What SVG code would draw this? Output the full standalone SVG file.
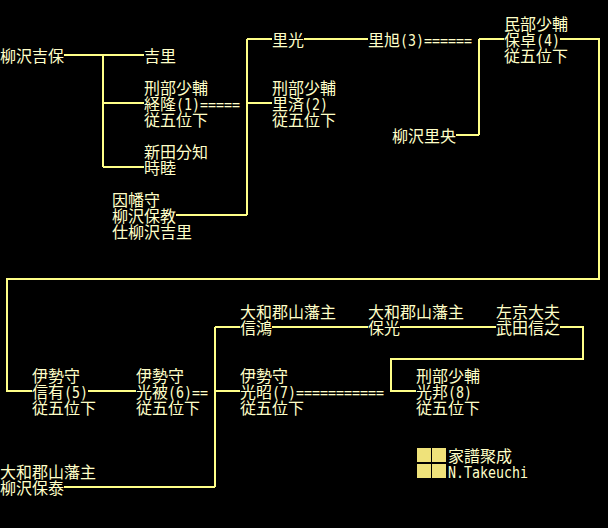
<svg xmlns="http://www.w3.org/2000/svg" width="608" height="528" viewBox="0 0 608 528">
<style>
text{font-family:"Noto Sans CJK JP","Noto Sans CJK SC",sans-serif;font-size:16px;fill:#ffffc8}
.a{font-family:"DejaVu Sans Mono","Liberation Mono",monospace;font-size:15px}
#connectors path{fill:none;stroke:#ffff88;stroke-width:2}
.sq{fill:#efe27a}
</style>
<rect width="608" height="528" fill="#000"/>
<g id="connectors">
<path d="M64 55H144M103 55V167M103 103H144M103 167H144"/>
<path d="M176 215H247M247 39V215M247 39H272M247 103H272"/>
<path d="M304 39H368"/>
<path d="M456 135H479M479 39V135M479 39H504"/>
<path d="M560 39H599V279H7V391H32"/>
<path d="M88 391H136"/>
<path d="M64 487H215M215 327V487M215 327H240M215 391H240"/>
<path d="M272 327H368M400 327H496"/>
<path d="M560 327H583V359H391V391H416"/>
</g>
<g id="n1"><text x="0" y="62">柳沢吉保</text></g>
<g id="n2"><text x="144" y="62">吉里</text></g>
<g id="n3"><text x="144" y="94">刑部少輔</text><text x="144" y="110">経隆<tspan class="a" x="176" textLength="64" lengthAdjust="spacingAndGlyphs">(1)=====</tspan></text><text x="144" y="126">従五位下</text></g>
<g id="n4"><text x="144" y="158">新田分知</text><text x="144" y="174">時睦</text></g>
<g id="n5"><text x="112" y="206">因幡守</text><text x="112" y="222">柳沢保教</text><text x="112" y="238">仕柳沢吉里</text></g>
<g id="n6"><text x="272" y="46">里光</text></g>
<g id="n7"><text x="272" y="94">刑部少輔</text><text x="272" y="110">里済<tspan class="a" x="304" textLength="24" lengthAdjust="spacingAndGlyphs">(2)</tspan></text><text x="272" y="126">従五位下</text></g>
<g id="n8"><text x="368" y="46">里旭<tspan class="a" x="400" textLength="72" lengthAdjust="spacingAndGlyphs">(3)======</tspan></text></g>
<g id="n9"><text x="504" y="30">民部少輔</text><text x="504" y="46">保卓<tspan class="a" x="536" textLength="24" lengthAdjust="spacingAndGlyphs">(4)</tspan></text><text x="504" y="62">従五位下</text></g>
<g id="n10"><text x="392" y="142">柳沢里央</text></g>
<g id="n11"><text x="32" y="382">伊勢守</text><text x="32" y="398">信有<tspan class="a" x="64" textLength="24" lengthAdjust="spacingAndGlyphs">(5)</tspan></text><text x="32" y="414">従五位下</text></g>
<g id="n12"><text x="136" y="382">伊勢守</text><text x="136" y="398">光被<tspan class="a" x="168" textLength="40" lengthAdjust="spacingAndGlyphs">(6)==</tspan></text><text x="136" y="414">従五位下</text></g>
<g id="n13"><text x="0" y="478">大和郡山藩主</text><text x="0" y="494">柳沢保泰</text></g>
<g id="n14"><text x="240" y="318">大和郡山藩主</text><text x="240" y="334">信鴻</text></g>
<g id="n15"><text x="240" y="382">伊勢守</text><text x="240" y="398">光昭<tspan class="a" x="272" textLength="112" lengthAdjust="spacingAndGlyphs">(7)===========</tspan></text><text x="240" y="414">従五位下</text></g>
<g id="n16"><text x="368" y="318">大和郡山藩主</text><text x="368" y="334">保光</text></g>
<g id="n17"><text x="496" y="318">左京大夫</text><text x="496" y="334">武田信之</text></g>
<g id="n18"><text x="416" y="382">刑部少輔</text><text x="416" y="398">光邦<tspan class="a" x="448" textLength="24" lengthAdjust="spacingAndGlyphs">(8)</tspan></text><text x="416" y="414">従五位下</text></g>
<g id="footer">
<rect class="sq" x="417" y="448" width="14" height="14"/><rect class="sq" x="432" y="448" width="14" height="14"/>
<rect class="sq" x="417" y="464" width="14" height="14"/><rect class="sq" x="432" y="464" width="14" height="14"/>
<text x="448" y="462">家譜聚成</text>
<text class="a" x="448" y="478" textLength="80" lengthAdjust="spacingAndGlyphs">N.Takeuchi</text>
</g>
</svg>
